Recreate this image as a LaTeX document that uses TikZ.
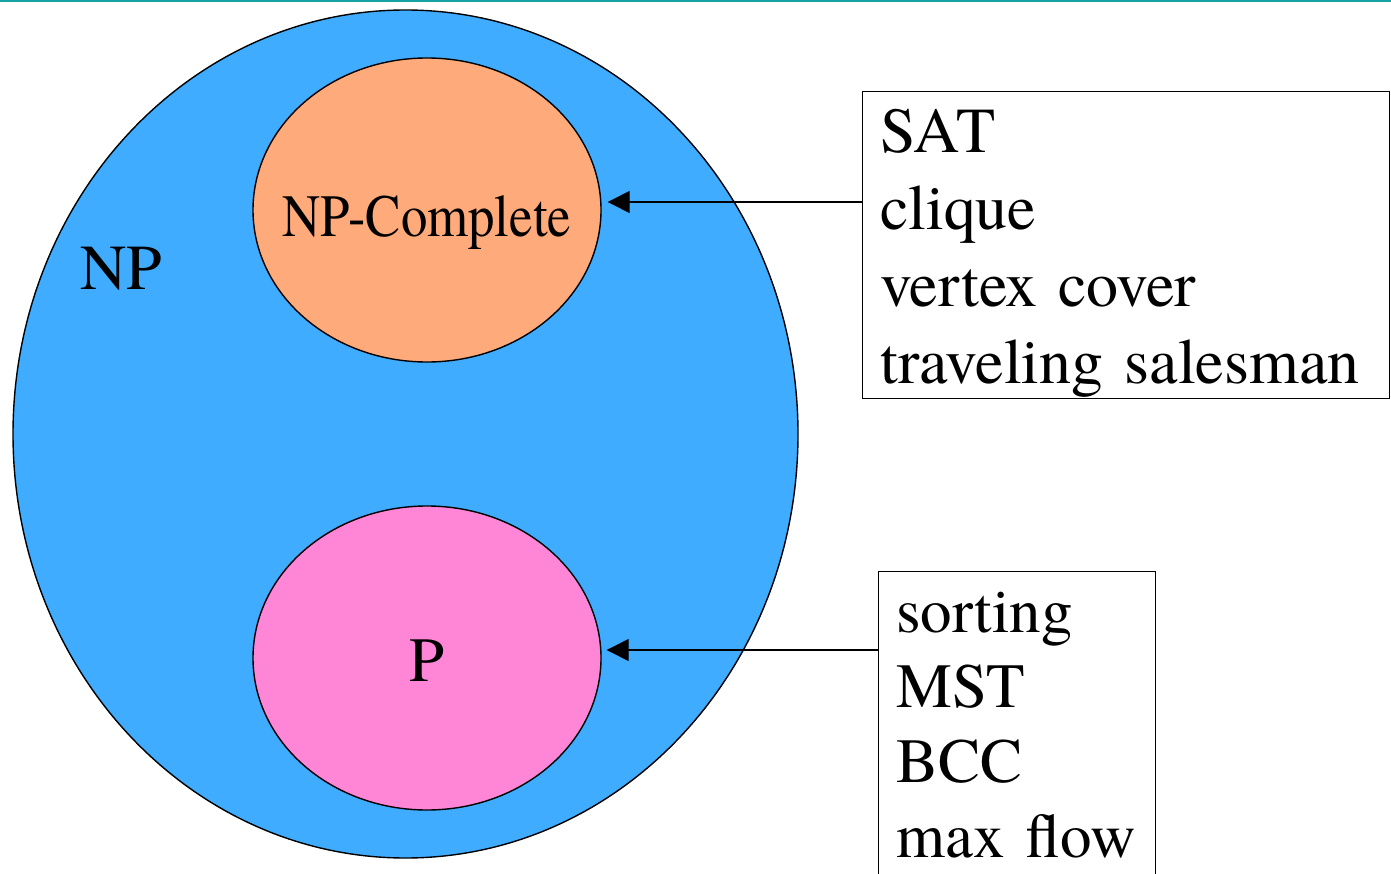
\documentclass[tikz,border=0pt]{standalone}
\usepackage{fontspec}
\setmainfont{TeX Gyre Termes}
\newfontfamily\narrowserif[FakeStretch=0.88]{TeX Gyre Termes}
\usepackage{tikz}
\usetikzlibrary{positioning,shapes.geometric,arrows.meta}
\definecolor{npblue}{HTML}{3FACFF}
\definecolor{npcorange}{HTML}{FFAA7A}
\definecolor{ppink}{HTML}{FF85D6}
\definecolor{topteal}{HTML}{17A2A6}

\begin{document}
\begin{tikzpicture}[
  x=1pt, y=-1pt,
  set/.style={draw, ellipse, line width=1.4pt, inner sep=0pt},
  setlabel/.style={anchor=base, inner sep=0pt},
  listbox/.style={draw, line width=1.4pt, anchor=north west, inner sep=0pt},
  listtext/.style={anchor=base west, inner sep=0pt, text width=480pt, align=left},
  arrow/.style={-{Triangle[length=22pt,width=22pt]}, line width=1.4pt}
]
\clip (0,0) rectangle (1391,874);
\fill[topteal] (0,0) rectangle (1391,2.5);

% Sets
\node[set, fill=npblue, minimum width=785pt, minimum height=848pt] (np) at (405.5,434) {};
\node[set, fill=npcorange, minimum width=348pt, minimum height=304pt] (npc) at (427,210) {};
\node[set, fill=ppink, minimum width=348pt, minimum height=304pt] (p) at (427,658) {};

% Set names
\node[setlabel, anchor=base west, font=\fontsize{64}{64}\selectfont] (nplabel) at (80.5,289.5) {NP};
\node[setlabel, font=\narrowserif\fontsize{60}{60}\selectfont] (npclabel) at (427,236.5) {NP-Complete};
\node[setlabel, font=\fontsize{63}{63}\selectfont] (plabel) at (427,681) {P};

% Example problems
\node[listbox, minimum width=527pt, minimum height=307pt] (npcbox) at (862,91) {};
\node[listtext, font=\fontsize{64}{77}\selectfont] (npclist) at (880,153)
  {SAT\\clique\\vertex cover\\traveling salesman};
\node[listbox, minimum width=277pt, minimum height=330pt] (pbox) at (878,571) {};
\node[listtext, font=\fontsize{63}{75}\selectfont] (plist) at (896,632)
  {sorting\\MST\\BCC\\max flow};

% Arrows
\coordinate (npctip) at ([xshift=6pt,yshift=8pt]npc.east);
\coordinate (ptip) at ([xshift=5pt,yshift=8pt]p.east);
\draw[arrow] (npctip -| npcbox.west) -- (npctip);
\draw[arrow] (ptip -| pbox.west) -- (ptip);

\end{tikzpicture}
\end{document}
